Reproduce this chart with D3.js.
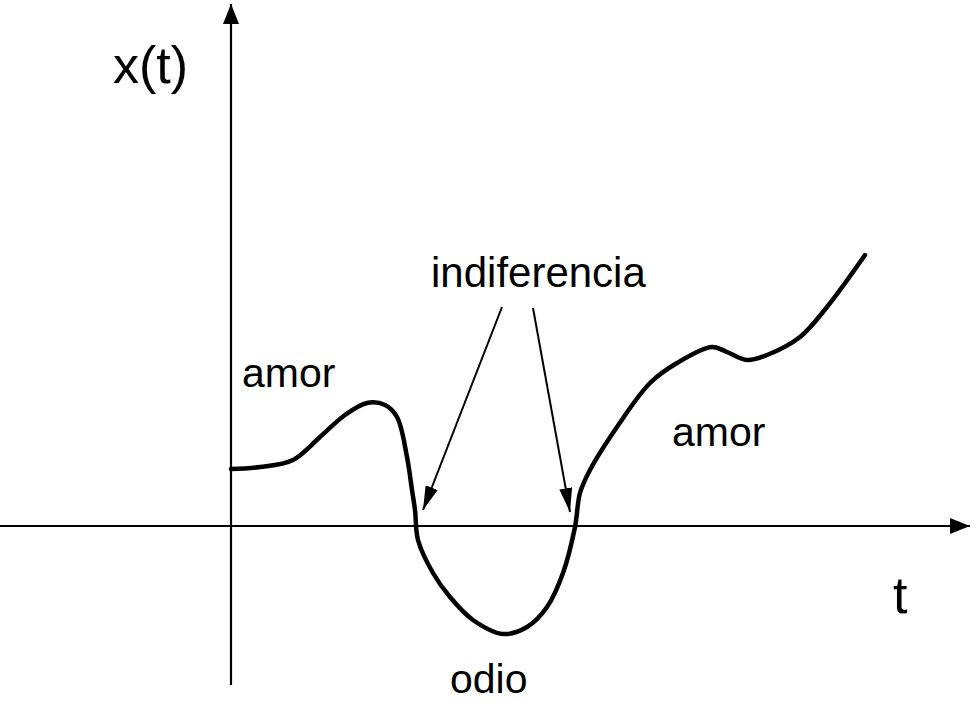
<!DOCTYPE html>
<html>
<head>
<meta charset="utf-8">
<script src="https://cdn.jsdelivr.net/npm/d3@7"></script>
<style>
  body { margin: 0; background: #fff; }
  text { font-family: "Liberation Sans", Arial, sans-serif; fill: #000; }
</style>
</head>
<body>
<svg id="chart" width="973" height="713"></svg>
<script>
// curve points: time t and value x(t)
var tValues = [0, 0.29, 0.62, 0.89, 1.14, 1.36, 1.54, 1.66, 1.76, 1.81, 1.84, 1.87, 2.02, 2.19, 2.42, 2.72,
               2.96, 3.16, 3.32, 3.44, 3.49, 3.59, 3.86, 4.19, 4.46, 4.81, 4.96, 5.16, 5.36, 5.69, 5.96, 6.34]
var xValues = [0.57, 0.59, 0.66, 0.89, 1.11, 1.23, 1.21, 1.09, 0.69, 0.36, 0.16, -0.14, -0.47, -0.71, -0.94, -1.08,
               -1.01, -0.81, -0.47, -0.01, 0.33, 0.56, 0.99, 1.43, 1.63, 1.79, 1.74, 1.66, 1.71, 1.89, 2.19, 2.71]

// axis extents
var tRange = [-2.31, 7.39]
var xRange = [-1.59, 5.22]

// labels: text, t, x, anchor, size
var labels = [
  {text: "x(t)", t: -1.18, x: 4.43, anchor: "start", size: 52},
  {text: "t", t: 6.62, x: -0.87, anchor: "start", size: 52},
  {text: "amor", t: 0.11, x: 1.39, anchor: "start", size: 41},
  {text: "amor", t: 4.41, x: 0.80, anchor: "start", size: 41},
  {text: "indiferencia", t: 2.00, x: 2.39, anchor: "start", size: 42},
  {text: "odio", t: 2.19, x: -1.67, anchor: "start", size: 41}
]

// pointers from "indiferencia" to the zero crossings
var pointers = [
  {t0: 2.71, x0: 2.19, t1: 1.92, x1: 0.16},
  {t0: 3.02, x0: 2.18, t1: 3.39, x1: 0.14}
]

var svg = d3.select("#chart")

var xs = d3.scaleLinear().domain([0, 1]).range([231, 331])
var ys = d3.scaleLinear().domain([0, 1]).range([526, 426])

var defs = svg.append("defs")
defs.append("marker")
    .attr("id", "axisHead")
    .attr("markerUnits", "userSpaceOnUse")
    .attr("viewBox", "0 0 20 16")
    .attr("markerWidth", 20).attr("markerHeight", 16)
    .attr("refX", 20).attr("refY", 8)
    .attr("orient", "auto")
  .append("path")
    .attr("d", "M0,0 L20,8 L0,16 Z")
    .attr("fill", "#000")

defs.append("marker")
    .attr("id", "ptrHead")
    .attr("markerUnits", "userSpaceOnUse")
    .attr("viewBox", "0 0 24 13")
    .attr("markerWidth", 24).attr("markerHeight", 13)
    .attr("refX", 24).attr("refY", 6.5)
    .attr("orient", "auto")
  .append("path")
    .attr("d", "M0,0 L24,6.5 L0,13 Z")
    .attr("fill", "#000")

// axes
svg.append("line")
    .attr("x1", xs(tRange[0])).attr("y1", ys(0))
    .attr("x2", xs(tRange[1])).attr("y2", ys(0))
    .attr("stroke", "#000").attr("stroke-width", 2.2)
    .attr("marker-end", "url(#axisHead)")

svg.append("line")
    .attr("x1", xs(0)).attr("y1", ys(xRange[0]))
    .attr("x2", xs(0)).attr("y2", ys(xRange[1]))
    .attr("stroke", "#000").attr("stroke-width", 2.2)
    .attr("marker-end", "url(#axisHead)")

// the curve
var pts = tValues.map(function(t, i) { return [t, xValues[i]] })
var line = d3.line()
    .x(function(d) { return xs(d[0]) })
    .y(function(d) { return ys(d[1]) })
    .curve(d3.curveCatmullRom.alpha(0.5))

svg.append("path")
    .datum(pts)
    .attr("d", line)
    .attr("fill", "none")
    .attr("stroke", "#000")
    .attr("stroke-width", 4.5)
    .attr("stroke-linejoin", "round")
    .attr("stroke-linecap", "round")

// pointer arrows
svg.selectAll(".ptr")
    .data(pointers)
    .enter().append("line")
    .attr("class", "ptr")
    .attr("x1", function(d) { return xs(d.t0) })
    .attr("y1", function(d) { return ys(d.x0) })
    .attr("x2", function(d) { return xs(d.t1) })
    .attr("y2", function(d) { return ys(d.x1) })
    .attr("stroke", "#000").attr("stroke-width", 2)
    .attr("marker-end", "url(#ptrHead)")

// labels
svg.selectAll(".lbl")
    .data(labels)
    .enter().append("text")
    .attr("class", "lbl")
    .attr("x", function(d) { return xs(d.t) })
    .attr("y", function(d) { return ys(d.x) })
    .attr("text-anchor", function(d) { return d.anchor })
    .style("font-size", function(d) { return d.size + "px" })
    .text(function(d) { return d.text })
</script>
</body>
</html>
